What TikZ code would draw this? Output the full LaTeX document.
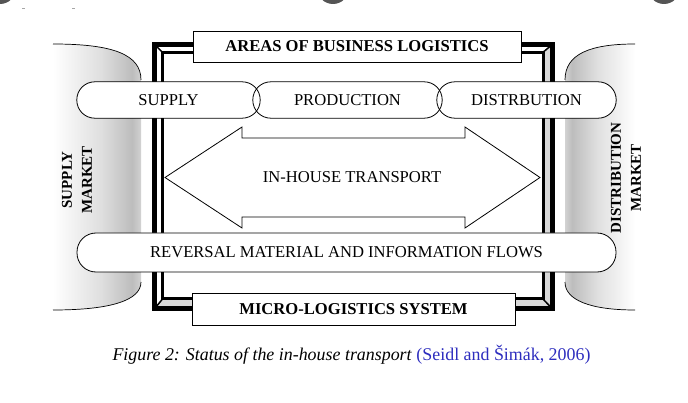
\documentclass[tikz,border=0pt]{standalone}
\usepackage{fontspec}
\setmainfont{Liberation Serif}
\definecolor{citeblue}{RGB}{45,45,190}
\definecolor{artgray}{RGB}{85,85,85}
\pgfdeclarehorizontalshading{lcyl}{100bp}{color(0bp)=(white); color(25bp)=(white); color(52bp)=(gray!25); color(70bp)=(gray!52); color(75bp)=(gray!35); color(100bp)=(gray!35)}
\pgfdeclarehorizontalshading{rcyl}{100bp}{color(0bp)=(gray!35); color(25bp)=(gray!35); color(30bp)=(gray!52); color(48bp)=(gray!25); color(75bp)=(white); color(100bp)=(white)}
\tikzset{
  pill/.style={fill=white, rounded corners=18pt, inner sep=0pt, font=\fontsize{16.6}{19}\selectfont},
  pilledge/.style={draw=black, line width=0.8pt, rounded corners=18pt},
  titlebox/.style={draw=black, fill=white, line width=0.8pt, inner sep=0pt, font=\fontsize{16.6}{19}\selectfont\bfseries},
  marketlabel/.style={rotate=90, align=center, font=\fontsize{15}{20}\selectfont\bfseries},
  arrowshape/.style={draw=black, fill=white, line width=0.8pt, line join=miter},
}
\begin{document}
\begin{tikzpicture}[x=1pt, y=-1pt]
\useasboundingbox (0,0) rectangle (688,403);
% screenshot artefacts at the top edge
\fill[artgray] (0,-12) circle (16);
\fill[artgray] (333,-12) circle (16);
\fill[artgray] (664,-12) circle (16);
\draw[gray!70, line width=0.8pt] (22,8) -- (25,8) (72,8) -- (75,8);
% market cylinders
\path[shading=lcyl] (53,44) .. controls (112,44) and (141,54) .. (141,80) -- (141,282) .. controls (141,300) and (112,310) .. (53,310) -- cycle;
\draw[line width=0.7pt] (53,44) .. controls (112,44) and (141,54) .. (141,80);
\draw[line width=0.7pt] (141,282) .. controls (141,300) and (112,310) .. (53,310);
\path[shading=rcyl] (635,44) .. controls (590,44) and (565,54) .. (565,80) -- (565,282) .. controls (565,300) and (590,310) .. (635,310) -- cycle;
\draw[line width=0.7pt] (635,44) .. controls (590,44) and (565,54) .. (565,80);
\draw[line width=0.7pt] (565,282) .. controls (565,300) and (590,310) .. (635,310);
\node[marketlabel] (sm) at (77,180) {SUPPLY\\MARKET};
\node[marketlabel] (dm) at (626,178) {DISTRIBUTION\\MARKET};
% frame
\fill[gray!30] (154.3,309) -- (552.5,309) -- (552.5,44.3) -- (543,52.3) -- (543,299) -- (162.5,299) -- cycle;
\draw[line width=5pt] (154.3,44.3) rectangle (552.5,309);
\draw[line width=3pt] (162.5,52.3) rectangle (543,299);
\draw[line width=1.5pt] (154.3,44.3) -- (162.5,52.3) (552.5,44.3) -- (543,52.3) (154.3,309) -- (162.5,299) (552.5,309) -- (543,299);
% in-house transport arrow
\draw[arrowshape] (165,177.5) -- (242,127) -- (242,138) -- (465,138) -- (465,127) -- (540,177.5) -- (465,228) -- (465,217) -- (242,217) -- (242,228) -- cycle;
\node[font=\fontsize{16.6}{19}\selectfont] (iht) at (352,177) {IN-HOUSE TRANSPORT};
% pills
\node[pill, minimum width=183pt, minimum height=36pt] (sup) at (168.5,100) {SUPPLY};
\node[pill, minimum width=189pt, minimum height=36pt] (prod) at (347.5,100) {PRODUCTION};
\node[pill, minimum width=179pt, minimum height=36pt] (dist) at (526.5,100) {DISTRBUTION};
\draw[pilledge] (sup.south west) rectangle (sup.north east);
\draw[pilledge] (prod.south west) rectangle (prod.north east);
\draw[pilledge] (dist.south west) rectangle (dist.north east);
\node[pill, draw=black, line width=0.8pt, rounded corners=19pt, minimum width=539pt, minimum height=39pt] (rev) at (346.5,252.5) {REVERSAL MATERIAL AND INFORMATION FLOWS};
% title boxes
\node[titlebox, minimum width=328pt, minimum height=31pt] (areas) at (357,46.5) {AREAS OF BUSINESS LOGISTICS};
\node[titlebox, minimum width=323pt, minimum height=32pt] (micro) at (353.5,309) {MICRO-LOGISTICS SYSTEM};
% caption
\node[font=\fontsize{17.9}{21}\selectfont, inner sep=0pt] (cap) at (351.5,355) {\itshape Figure 2: Status of the in-house transport\/ \upshape\textcolor{citeblue}{(Seidl and Šimák, 2006)}};
\end{tikzpicture}
\end{document}
